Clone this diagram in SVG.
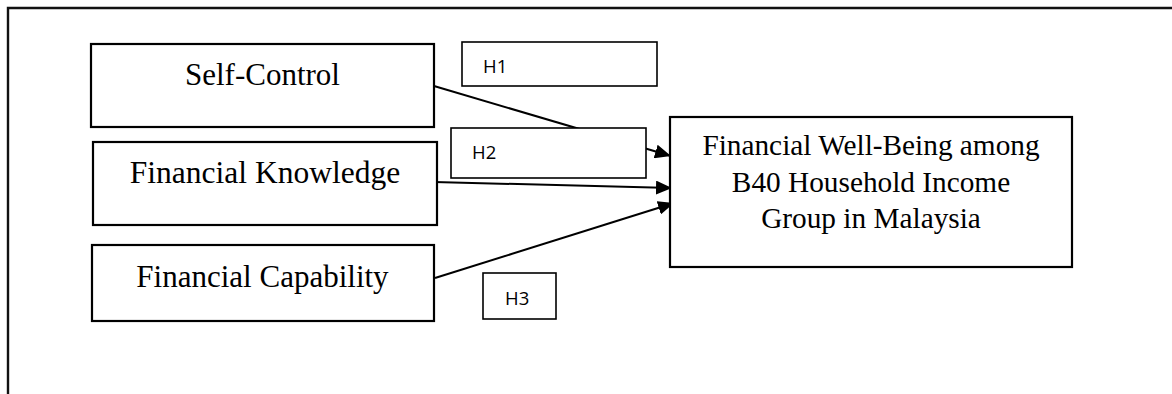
<svg xmlns="http://www.w3.org/2000/svg" width="1172" height="394" viewBox="0 0 1172 394">
<style>
.node{fill:#fff;stroke:#000;stroke-width:2.2}
.hbox{fill:#fff;stroke:#000;stroke-width:1.6}
.t{font-family:"Liberation Serif","Times New Roman",serif;fill:#000;text-anchor:middle}
.h{font-family:"Open Sans","Liberation Sans",sans-serif;font-size:18.5px;fill:#000}
.conn{stroke:#000;stroke-width:2;fill:none;marker-end:url(#arr)}
</style>
<defs>
<marker id="arr" viewBox="0 0 16 14" refX="16" refY="7" markerWidth="16" markerHeight="14" markerUnits="userSpaceOnUse" orient="auto">
<path d="M0,0 L16,7 L0,14 Z" fill="#000"/>
</marker>
</defs>
<rect width="1172" height="394" fill="#fff"/>
<path d="M8,394 V8 H1172" fill="none" stroke="#111" stroke-width="2.4"/>
<g id="connectors">
<line class="conn" x1="434" y1="86" x2="671" y2="156"/>
<line class="conn" x1="434" y1="182" x2="672" y2="188"/>
<line class="conn" x1="435" y1="278" x2="674" y2="203"/>
</g>
<g id="self-control">
<rect class="node" x="91" y="44" width="343" height="83"/>
<text class="t" x="262.5" y="85" font-size="31">Self-Control</text>
</g>
<g id="financial-knowledge">
<rect class="node" x="93" y="142" width="344" height="83"/>
<text class="t" x="265" y="183" font-size="31.5">Financial Knowledge</text>
</g>
<g id="financial-capability">
<rect class="node" x="92" y="245" width="342" height="76"/>
<text class="t" x="262.5" y="287" font-size="31">Financial Capability</text>
</g>
<g id="h1">
<rect class="hbox" x="462" y="42" width="195" height="44"/>
<text class="h" x="483" y="73">H1</text>
</g>
<g id="h2">
<rect class="hbox" x="451" y="128" width="195" height="50"/>
<text class="h" x="472" y="159">H2</text>
</g>
<g id="h3">
<rect class="hbox" x="483" y="273" width="73" height="46"/>
<text class="h" x="505" y="305">H3</text>
</g>
<g id="financial-well-being">
<rect class="node" x="670" y="117" width="402" height="150"/>
<text class="t" x="871" y="155" font-size="29.3">Financial Well-Being among</text>
<text class="t" x="871" y="192" font-size="29.3">B40 Household Income</text>
<text class="t" x="871" y="228" font-size="29.3">Group in Malaysia</text>
</g>
</svg>
